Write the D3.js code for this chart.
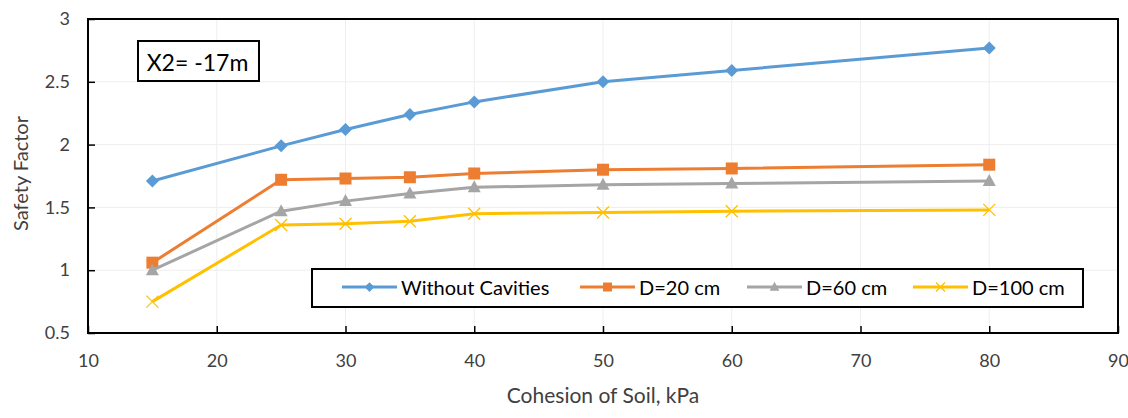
<!DOCTYPE html>
<html><head><meta charset="utf-8">
<script src="https://cdn.jsdelivr.net/npm/d3@7"></script>
<style>body{margin:0;background:#fff}svg{display:block}text{font-family:Lato,"Open Sans",sans-serif}</style>
</head><body>
<svg id="c" width="1128" height="418"></svg>
<script>
const cohesion = [15, 25, 30, 35, 40, 50, 60, 80];
const withoutCavities = [1.71, 1.99, 2.12, 2.24, 2.34, 2.50, 2.59, 2.77];
const d20 = [1.06, 1.72, 1.73, 1.74, 1.77, 1.80, 1.81, 1.84];
const d60 = [1.00, 1.47, 1.55, 1.61, 1.66, 1.68, 1.69, 1.71];
const d100 = [0.75, 1.36, 1.37, 1.39, 1.45, 1.46, 1.47, 1.48];
const xTicks = [10, 20, 30, 40, 50, 60, 70, 80, 90];
const yTicks = [0.5, 1, 1.5, 2, 2.5, 3];
const seriesNames = ["Without Cavities", "D=20 cm", "D=60 cm", "D=100 cm"];

const series = [
  {name: seriesNames[0], values: withoutCavities, color: "#5B9BD5", marker: "diamond"},
  {name: seriesNames[1], values: d20, color: "#ED7D31", marker: "square"},
  {name: seriesNames[2], values: d60, color: "#A5A5A5", marker: "triangle"},
  {name: seriesNames[3], values: d100, color: "#FFC000", marker: "x"}
];

const svg = d3.select("#c");
const L = 88, R = 1118, T = 19, B = 333;
const x = d3.scaleLinear().domain([10, 90]).range([L, R]);
const y = d3.scaleLinear().domain([0.5, 3]).range([B, T]);

// gridlines
svg.append("g").selectAll("line").data(xTicks.slice(1, -1)).join("line")
  .attr("x1", d => x(d)).attr("x2", d => x(d)).attr("y1", T).attr("y2", B)
  .attr("stroke", "#eeeeee").attr("stroke-width", 1);
svg.append("g").selectAll("line").data(yTicks.slice(1, -1)).join("line")
  .attr("x1", L).attr("x2", R).attr("y1", d => y(d)).attr("y2", d => y(d))
  .attr("stroke", "#eeeeee").attr("stroke-width", 1);

// frame
svg.append("rect").attr("x", L).attr("y", T).attr("width", R - L).attr("height", B - T)
  .attr("fill", "none").attr("stroke", "#000").attr("stroke-width", 2);

// axes
const xAxis = d3.axisBottom(x).tickValues(xTicks).tickSize(-7).tickPadding(21).tickFormat(d3.format("d"));
const gx = svg.append("g").attr("transform", `translate(0,${B})`).call(xAxis);
gx.select(".domain").remove();
gx.selectAll(".tick line").attr("stroke", "#000").attr("stroke-width", 1.5);
gx.selectAll(".tick text").attr("font-size", 18).attr("fill", "#404040");

const yAxis = d3.axisLeft(y).tickValues(yTicks).tickSize(-7).tickPadding(18).tickFormat(d => String(d));
const gy = svg.append("g").attr("transform", `translate(${L},0)`).call(yAxis);
gy.select(".domain").remove();
gy.selectAll(".tick line").attr("stroke", "#000").attr("stroke-width", 1.5);
gy.selectAll(".tick text").attr("font-size", 18).attr("fill", "#404040");

// axis titles
svg.append("text").attr("x", 603).attr("y", 403).attr("text-anchor", "middle")
  .attr("font-size", 21).attr("fill", "#404040").text("Cohesion of Soil, kPa");
svg.append("text").attr("transform", `translate(28,173.5) rotate(-90)`).attr("text-anchor", "middle")
  .attr("font-size", 20).attr("fill", "#404040").text("Safety Factor");

// markers
function drawMarker(g, type, color, cx, cy, k) {
  if (type === "diamond") {
    const r = 6.5 * k;
    g.append("path").attr("d", `M${cx},${cy-r}L${cx+r},${cy}L${cx},${cy+r}L${cx-r},${cy}Z`).attr("fill", color);
  } else if (type === "square") {
    const h = 6 * k;
    g.append("rect").attr("x", cx - h).attr("y", cy - h).attr("width", 2*h).attr("height", 2*h).attr("fill", color);
  } else if (type === "triangle") {
    g.append("path").attr("d", `M${cx},${cy-7*k}L${cx+6.5*k},${cy+5*k}L${cx-6.5*k},${cy+5*k}Z`).attr("fill", color);
  } else {
    const r = 6 * k;
    g.append("path").attr("d", `M${cx-r},${cy-r}L${cx+r},${cy+r}M${cx+r},${cy-r}L${cx-r},${cy+r}`)
      .attr("stroke", color).attr("stroke-width", 1.3).attr("fill", "none");
  }
}

const line = d3.line().x(d => x(d[0])).y(d => y(d[1]));
const plot = svg.append("g");
series.forEach(s => {
  const pts = cohesion.map((c, i) => [c, s.values[i]]);
  plot.append("path").attr("d", line(pts)).attr("fill", "none").attr("stroke", s.color).attr("stroke-width", 3).attr("stroke-linejoin", "round");
  const mg = plot.append("g");
  pts.forEach(p => drawMarker(mg, s.marker, s.color, x(p[0]), y(p[1]), 1));
});

// annotation box
svg.append("rect").attr("x", 138).attr("y", 41).attr("width", 121).attr("height", 40)
  .attr("fill", "#fff").attr("stroke", "#000").attr("stroke-width", 2);
svg.append("text").attr("x", 197.5).attr("y", 70.5).attr("text-anchor", "middle")
  .attr("font-size", 23).attr("fill", "#000").text("X2= -17m");

// legend
svg.append("rect").attr("x", 312).attr("y", 269).attr("width", 771).attr("height", 38)
  .attr("fill", "#fff").attr("stroke", "#000").attr("stroke-width", 2);
const legX = [342, 580, 747, 913];
const lg = svg.append("g");
series.forEach((s, i) => {
  const lx = legX[i], ly = 287;
  lg.append("line").attr("x1", lx).attr("x2", lx + 55).attr("y1", ly).attr("y2", ly)
    .attr("stroke", s.color).attr("stroke-width", 3);
  drawMarker(lg, s.marker, s.color, lx + 27.5, ly, 0.75);
  lg.append("text").attr("x", lx + 59).attr("y", ly + 8).attr("font-size", 20).attr("fill", "#000").text(s.name);
});
</script>
</body></html>
